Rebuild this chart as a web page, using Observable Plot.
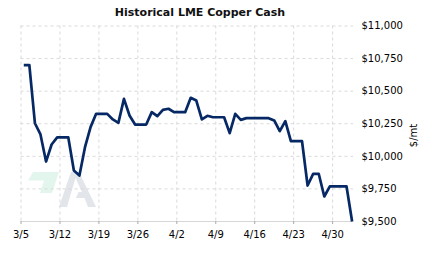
<!DOCTYPE html>
<html>
<head>
<meta charset="utf-8">
<script src="https://cdn.jsdelivr.net/npm/d3@7"></script>
<script src="https://cdn.jsdelivr.net/npm/@observablehq/plot@0.6"></script>
<style>
  html, body { margin: 0; padding: 0; background: #fff; }
  #wrap { position: relative; width: 423px; height: 257px; overflow: hidden; }
  #logo, #chart, #title { position: absolute; left: 0; top: 0; }
  #title { top: 6px; width: 400px; text-align: center; font: bold 11px "DejaVu Sans", sans-serif; color: #111; line-height: 13px; }
</style>
</head>
<body>
<div id="wrap">
  <svg id="logo" width="423" height="257">
    <polygon points="33,172 59,172 52,193 40,193 44,180.5 28,180.5" fill="#e3f6ee"/>
    <path d="M59,207 L71,172 L79,172 L96,207 L88,207 L84.5,198 L76,198 L78.5,192 L82,192 L75.5,178 L67,207 Z" fill="#e2e5ea"/>
  </svg>
  <div id="chart"></div>
  <div id="title">Historical LME Copper Cash</div>
</div>
<script>
// Daily LME copper cash settlement (weekends / holidays carry the prior value)
const dates = [
  "2022-03-05","2022-03-06","2022-03-07","2022-03-08","2022-03-09","2022-03-10","2022-03-11",
  "2022-03-12","2022-03-13","2022-03-14","2022-03-15","2022-03-16","2022-03-17","2022-03-18",
  "2022-03-19","2022-03-20","2022-03-21","2022-03-22","2022-03-23","2022-03-24","2022-03-25",
  "2022-03-26","2022-03-27","2022-03-28","2022-03-29","2022-03-30","2022-03-31","2022-04-01",
  "2022-04-02","2022-04-03","2022-04-04","2022-04-05","2022-04-06","2022-04-07","2022-04-08",
  "2022-04-09","2022-04-10","2022-04-11","2022-04-12","2022-04-13","2022-04-14","2022-04-15",
  "2022-04-16","2022-04-17","2022-04-18","2022-04-19","2022-04-20","2022-04-21","2022-04-22",
  "2022-04-23","2022-04-24","2022-04-25","2022-04-26","2022-04-27","2022-04-28","2022-04-29",
  "2022-04-30","2022-05-01","2022-05-02","2022-05-03"
];
const prices = [
  10700,10700,10254,10168,9960,10091,10145,
  10145,10145,9891,9853,10070,10224,10326,
  10326,10326,10283,10257,10441,10313,10244,
  10244,10244,10339,10308,10357,10365,10339,
  10339,10339,10449,10428,10283,10311,10300,
  10300,10300,10178,10326,10280,10293,10293,
  10293,10293,10293,10275,10193,10270,10116,
  10116,10116,9776,9866,9866,9692,9769,
  9769,9769,9769,9500
];
const xTickDates = ["2022-03-05","2022-03-12","2022-03-19","2022-03-26","2022-04-02","2022-04-09","2022-04-16","2022-04-23","2022-04-30"];
const yTicks = [9500, 9750, 10000, 10250, 10500, 10750, 11000];
const xDomain = ["2022-03-05T00:00Z", "2022-05-03T18:00Z"];
const yLabel = "$/mt";

const data = dates.map((d, i) => ({date: new Date(d + "T12:00Z"), price: prices[i]}));
const xt = xTickDates.map(d => new Date(d + "T00:00Z"));

const chart = Plot.plot({
  width: 423,
  height: 257,
  marginTop: 25.5,
  marginBottom: 36,
  marginLeft: 20.5,
  marginRight: 70,
  style: {background: "transparent", fontFamily: "DejaVu Sans, sans-serif", fontSize: "10px", color: "#000", overflow: "visible"},
  x: {type: "utc", domain: xDomain.map(d => new Date(d))},
  y: {domain: [9500, 11000]},
  marks: [
    Plot.gridX(xt, {stroke: "#d9d9d9", strokeOpacity: 1, strokeDasharray: "3,3"}),
    Plot.gridY(yTicks.slice(1), {stroke: "#d9d9d9", strokeOpacity: 1, strokeDasharray: "3,3"}),
    Plot.ruleY([9500], {stroke: "#d6d6d6", strokeWidth: 1}),
    Plot.axisX(xt, {tickFormat: d3.utcFormat("%-m/%-d"), tickSize: 3, tickPadding: 6, stroke: "#aaa", label: null, fill: "#000"}),
    Plot.axisY(yTicks, {anchor: "right", tickSize: 0, tickPadding: 8, tickFormat: d3.format("$,"), label: null, fill: "#000"}),
    Plot.text([yLabel], {frameAnchor: "right", dx: 60, rotate: -90, fill: "#000", fontSize: 10}),
    Plot.line(data, {x: "date", y: "price", stroke: "#062864", strokeWidth: 2.7, strokeLinejoin: "round", strokeLinecap: "butt"})
  ]
});
document.getElementById("chart").appendChild(chart);
</script>
</body>
</html>
